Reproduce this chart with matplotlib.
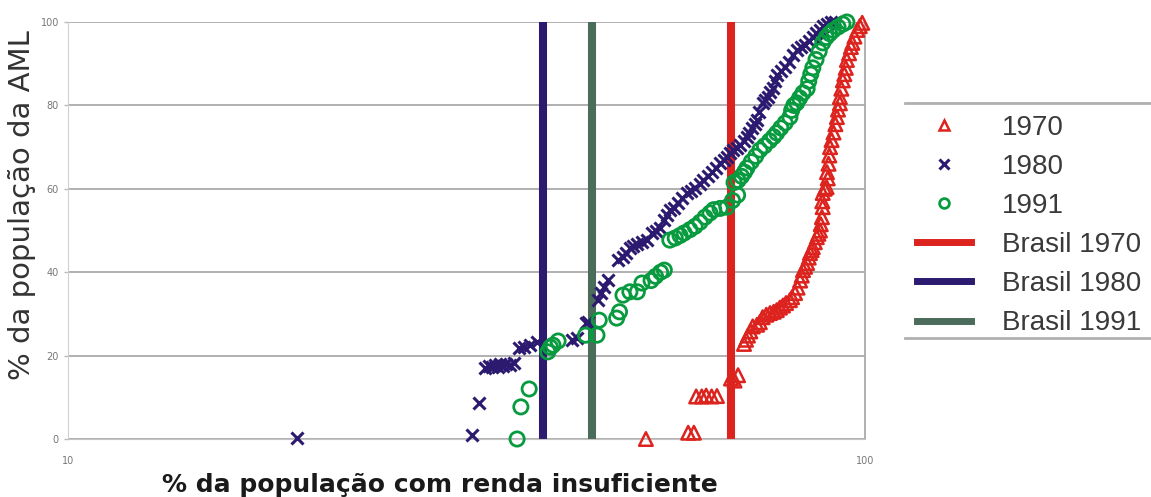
import matplotlib.pyplot as plt
from matplotlib.lines import Line2D
from matplotlib.ticker import NullLocator

# Municipalities of the AML: % of population with insufficient income (x)
# against cumulative % of the AML population (y)
x_1970 = [53.1, 60.0, 61.0, 61.4, 62.4, 63.2, 64.2, 65.2, 67.9, 68.6, 69.3,
          70.5, 70.9, 71.3, 71.8, 72.3, 73.2, 73.8, 74.4, 75.2, 76.0, 76.8,
          77.5, 78.2, 78.9, 79.6, 80.5, 81.0, 81.7, 82.3, 82.9, 83.3, 83.6,
          84.1, 84.6, 85.0, 85.3, 85.7, 86.0, 86.5, 87.0, 87.4, 87.8, 88.0,
          88.3, 88.5, 88.4, 88.5, 89.0, 89.5, 89.8, 89.6, 90.0, 90.2, 90.4,
          90.8, 91.3, 91.8, 92.2, 92.5, 93.0, 93.0, 93.4, 93.8, 94.2, 94.6,
          94.9, 95.5, 96.0, 96.4, 97.0, 97.8, 98.5, 99.2]
y_1970 = [0.0, 1.5, 1.5, 10.2, 10.2, 10.4, 10.2, 10.3, 14.5, 14.0, 15.3,
          22.8, 23.8, 24.8, 25.8, 27.0, 27.4, 28.0, 29.2, 29.8, 30.2, 30.5,
          30.9, 31.5, 32.0, 32.6, 33.3, 34.0, 35.0, 36.3, 38.0, 39.2, 40.5,
          41.3, 42.2, 43.5, 44.6, 45.3, 46.0, 47.2, 48.4, 49.2, 50.0, 51.5,
          53.2, 55.6, 57.0, 59.0, 60.0, 60.4, 62.5, 64.0, 66.0, 68.0, 70.0,
          71.7, 73.5, 75.5, 77.2, 79.0, 80.5, 82.0, 84.0, 86.0, 87.5, 89.0,
          90.9, 92.5, 94.0, 95.0, 96.5, 98.1, 99.0, 99.8]

x_1980 = [19.4, 32.1, 32.8, 33.4, 33.7, 34.0, 34.3, 34.6, 34.8, 35.1, 35.4,
          35.85, 36.3, 36.8, 37.3, 38.0, 38.8, 42.9, 43.5, 44.6, 44.9, 46.2,
          46.6, 47.0, 47.6, 49.0, 49.7, 50.2, 50.7, 51.2, 51.7, 52.5, 53.2,
          54.1, 54.7, 55.3, 56.0, 56.5, 56.9, 57.6, 58.3, 59.0, 59.8, 60.5,
          61.2, 62.0, 62.6, 63.5, 64.3, 65.0, 65.8, 66.5, 67.1, 67.7, 68.3,
          69.0, 69.7, 70.4, 71.1, 71.6, 72.1, 72.7, 73.2, 73.6, 74.5, 75.0,
          75.5, 76.1, 76.6, 77.0, 77.5, 78.4, 79.3, 80.2, 81.2, 82.1, 83.1,
          84.1, 85.0, 86.0, 86.9, 87.8, 88.7, 89.5, 90.6, 91.6]
y_1980 = [0.2, 1.0, 8.6, 17.0, 17.5, 17.3, 17.8, 17.2, 17.9, 17.5, 18.0,
          17.7, 18.3, 21.8, 22.1, 22.5, 23.3, 23.7, 24.2, 27.8, 28.1, 33.3,
          35.0, 36.5, 38.1, 42.9, 43.6, 44.5, 45.8, 46.2, 46.8, 47.2, 47.7,
          49.4, 50.0, 50.6, 52.5, 53.8, 54.9, 55.5, 56.6, 57.8, 59.0, 59.5,
          60.2, 61.2, 62.1, 63.0, 64.0, 65.0, 66.2, 66.8, 67.6, 68.5, 69.3,
          69.8, 70.5, 71.5, 72.4, 73.5, 74.6, 75.5, 76.5, 78.5, 80.6, 81.3,
          82.0, 83.2, 84.2, 85.8, 87.3, 88.3, 89.2, 90.5, 92.0, 93.3, 94.0,
          94.5, 95.5, 96.4, 97.3, 98.1, 99.0, 99.6, 100.0, 100.0]

x_1991 = [36.6, 37.0, 37.9, 40.0, 40.3, 40.6, 41.2, 44.6, 46.1, 46.4, 48.8,
          49.2, 49.7, 50.7, 51.8, 52.5, 53.9, 54.6, 55.4, 56.0,
          56.9, 57.8, 58.6, 59.3, 60.3, 61.2, 62.1, 63.0, 63.9, 64.6, 65.8,
          67.1, 68.2, 69.2, 68.5, 69.3, 70.0, 70.6, 71.1, 72.0, 72.9, 73.8,
          74.8, 75.9, 76.8, 77.5, 78.4, 79.4, 80.5, 80.9, 81.4, 82.1, 82.8,
          83.6, 84.6, 85.0, 85.5, 86.0, 86.8, 87.6, 88.5, 89.4, 90.3, 91.2,
          92.5, 93.8, 94.9]
y_1991 = [0.0, 7.7, 12.0, 20.9, 22.0, 22.5, 23.5, 24.9, 24.9, 28.5, 29.0,
          30.5, 34.5, 35.3, 35.3, 37.4, 38.0, 39.0, 40.0, 40.5,
          47.7, 48.2, 48.8, 49.4, 50.2, 51.0, 52.0, 53.2, 54.2, 55.0, 55.3,
          55.6, 57.2, 58.5, 61.5, 62.0, 63.0, 64.0, 65.0, 66.5, 67.8, 69.3,
          70.3, 71.5, 72.5, 73.4, 74.6, 75.8, 77.2, 78.8, 80.0, 80.6, 81.8,
          83.0, 84.0, 85.8, 87.5, 89.0, 91.0, 93.0, 95.0, 96.3, 97.2, 98.0,
          98.8, 99.5, 100.0]

# National reference values (Brasil)
brasil_years = ["1970", "1980", "1991"]
brasil_values = [67.9, 39.4, 45.4]

red = "#dc231e"
navy = "#2b1a6f"
green = "#079a3e"
slate = "#4b6b5b"
brasil_colors = [red, navy, slate]

W, H = 1151, 497
fig = plt.figure(figsize=(W / 100, H / 100), dpi=100)
ax = fig.add_axes([68 / W, 1 - 439 / H, (865 - 68) / W, (439 - 22) / H])

ax.set_xscale("log")
ax.set_xlim(10, 100)
ax.set_ylim(0, 100)

for val, col in zip(brasil_values, brasil_colors):
    ax.axvline(val, color=col, lw=5.8, zorder=2)

ax.scatter(x_1970, y_1970, marker="^", s=95, facecolors="none",
           edgecolors=red, linewidths=1.8, clip_on=False, zorder=3)
ax.scatter(x_1980, y_1980, marker="x", s=75, color=navy,
           linewidths=2.2, clip_on=False, zorder=3)
ax.scatter(x_1991, y_1991, marker="o", s=105, facecolors="none",
           edgecolors=green, linewidths=2.0, clip_on=False, zorder=3)

# axes styling
ax.set_yticks([0, 20, 40, 60, 80, 100])
ax.set_xticks([10, 100])
ax.set_xticklabels(["10", "100"])
ax.xaxis.set_minor_locator(NullLocator())
ax.tick_params(axis="both", labelsize=7, labelcolor="#777777", color="#bbbbbb",
               length=3, width=1)
ax.tick_params(axis="x", length=0, pad=12)
ax.yaxis.grid(True, color="#aaaaaa", lw=1.3)
ax.set_axisbelow(True)
ax.spines["top"].set_visible(False)
ax.spines["bottom"].set_color("#c4c4c4")
ax.spines["left"].set_color("#d0d0d0")
ax.spines["right"].set_color("#aaaaaa")
ax.spines["right"].set_linewidth(1.3)

fig.text(440 / W, 1 - 485 / H, "% da população com renda insuficiente",
         fontsize=18, fontweight="bold", color="#1a1a1a",
         ha="center", va="center")
fig.text(22 / W, 1 - 205 / H, "% da população da AML", fontsize=21,
         color="#333333", rotation=90, ha="center", va="center")

# legend
handles = [
    Line2D([], [], ls="none", marker="^", ms=7, mfc="none", mec=red, mew=1.8),
    Line2D([], [], ls="none", marker="x", ms=7, color=navy, mew=2.2),
    Line2D([], [], ls="none", marker="o", ms=7, mfc="none", mec=green, mew=2.0),
]
labels = ["1970", "1980", "1991"]
for yr, col in zip(brasil_years, brasil_colors):
    handles.append(Line2D([], [], color=col, lw=5))
    labels.append("Brasil " + yr)

fig.legend(handles, labels, loc="upper left",
           bbox_to_anchor=(905 / W, 1 - 103 / H), frameon=False,
           prop={"family": "Liberation Sans", "size": 20},
           labelcolor="#3a3a3a", handlelength=1.95,
           handletextpad=1.1, labelspacing=0.47, borderpad=0.43,
           borderaxespad=0)
for yy in (103, 338):
    fig.add_artist(Line2D([905 / W, 1.0], [1 - yy / H, 1 - yy / H],
                          color="#b0b0b0", lw=2))

fig.savefig("out.png", dpi=100)
